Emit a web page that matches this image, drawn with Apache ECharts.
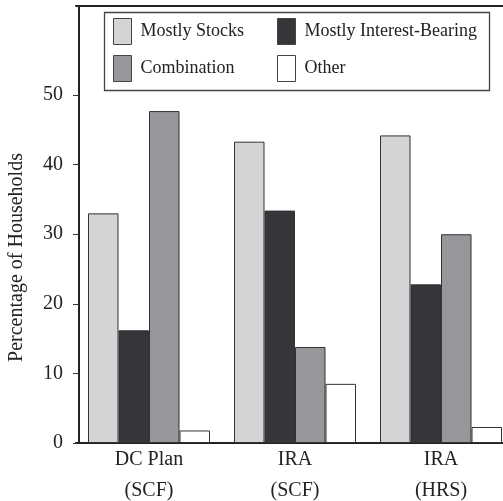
<!DOCTYPE html>
<html>
<head>
<meta charset="utf-8">
<script src="https://cdn.jsdelivr.net/npm/echarts@6/dist/echarts.min.js"></script>
<style>
html,body{margin:0;padding:0;background:#fff;}
#chart{width:503px;height:501px;}
</style>
</head>
<body>
<div id="chart"></div>
<script>
var categories = ['DC Plan\n(SCF)', 'IRA\n(SCF)', 'IRA\n(HRS)'];
var seriesNames = ['Mostly Stocks', 'Mostly Interest-Bearing', 'Combination', 'Other'];
var mostlyStocks = [33.0, 43.3, 44.2];
var mostlyInterest = [16.2, 33.4, 22.8];
var combination = [47.7, 13.8, 30.0];
var other = [1.8, 8.5, 2.3];
var yTicks = [0, 10, 20, 30, 40, 50];

var colors = ['#d3d4d6', '#363539', '#96979a', '#ffffff'];
var values = [mostlyStocks, mostlyInterest, combination, other];
var font = 'Liberation Serif';

var chart = echarts.init(document.getElementById('chart'), null, {renderer: 'canvas'});

var series = seriesNames.map(function (n, i) {
  return {
    name: n,
    type: 'bar',
    data: values[i],
    barWidth: 30.5,
    barGap: '0%',
    itemStyle: {color: colors[i], borderColor: '#333', borderWidth: 1},
    emphasis: {disabled: true}
  };
});

var legendCommon = {
  orient: 'vertical',
  top: 18,
  padding: 0,
  itemWidth: 18,
  itemHeight: 26,
  itemGap: 10,
  itemTextGap: 9,
  icon: 'rect',
  selectedMode: false,
  textStyle: {fontFamily: font, fontSize: 18, color: '#222', padding: [3, 0, 0, 4]},
  itemStyle: {borderColor: '#444', borderWidth: 1}
};

chart.setOption({
  animation: false,
  textStyle: {fontFamily: font},
  grid: {left: 76, top: 6, bottom: 58, width: 438, containLabel: false, outerBoundsMode: 'none'},
  legend: [
    Object.assign({}, legendCommon, {left: 113, data: [seriesNames[0], seriesNames[2]]}),
    Object.assign({}, legendCommon, {left: 277, data: [seriesNames[1], seriesNames[3]]})
  ],
  graphic: [{
    type: 'rect',
    left: 102, top: 10,
    shape: {width: 385, height: 78},
    style: {fill: 'none', stroke: '#444', lineWidth: 1.3},
    z: 100
  }],
  xAxis: [{
    type: 'category',
    data: categories,
    axisLine: {lineStyle: {color: '#222', width: 2}},
    axisTick: {show: false},
    axisLabel: {fontFamily: font, fontSize: 20, color: '#222', margin: 1, lineHeight: 31}
  }, {
    type: 'category',
    position: 'top',
    data: categories,
    axisLine: {lineStyle: {color: '#222', width: 2}},
    axisTick: {show: false},
    axisLabel: {show: false}
  }],
  yAxis: {
    type: 'value',
    min: 0,
    max: 62.8,
    interval: 10,
    offset: -3,
    name: 'Percentage of Households',
    nameLocation: 'middle',
    nameGap: 52,
    nameTextStyle: {fontFamily: font, fontSize: 20, color: '#222', padding: [0, 66, 0, 0]},
    axisLine: {show: true, lineStyle: {color: '#222', width: 2}},
    axisTick: {show: true, length: 6, lineStyle: {color: '#333'}, customValues: yTicks},
    axisLabel: {fontFamily: font, fontSize: 20, color: '#222', margin: 16, customValues: yTicks},
    splitLine: {show: false}
  },
  series: series
});
</script>
</body>
</html>
